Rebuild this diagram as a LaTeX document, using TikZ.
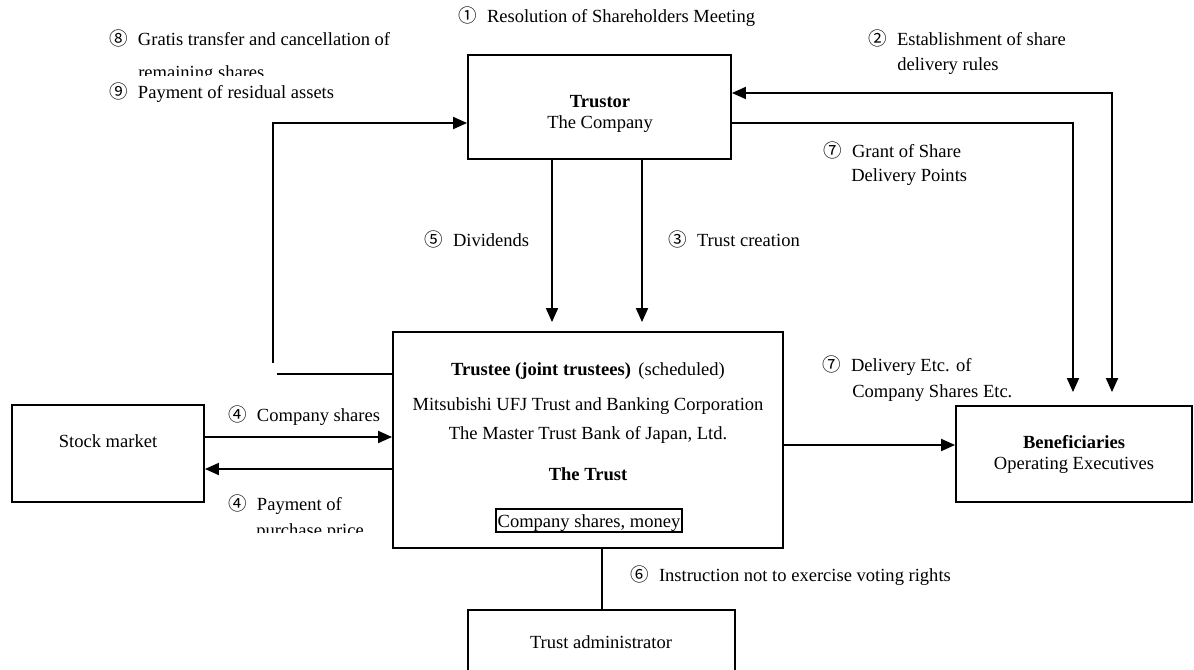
\documentclass[tikz,border=0pt]{standalone}
\usepackage{fontspec}
\setmainfont{Liberation Serif}
\newfontfamily\cjk{Noto Sans CJK JP}
\usetikzlibrary{arrows.meta,fit}
\newcommand{\cnum}[1]{{\cjk #1}\hspace{0.55em}}
\begin{document}
\begin{tikzpicture}[x=0.75pt,y=-0.75pt,
  box/.style={draw, line width=1.4pt, inner sep=0pt},
  tx/.style={anchor=base, inner sep=0pt, font=\fontsize{13.9}{16}\selectfont},
  txw/.style={tx, anchor=base west},
  conn/.style={line width=1.4pt},
  arr/.style={conn, -{Triangle[length=10.5pt,width=9pt]}},
  darr/.style={conn, {Triangle[length=10.5pt,width=9pt]}-{Triangle[length=10.5pt,width=9pt]}}]
\useasboundingbox (0,0) rectangle (1194,670);
\clip (0,0) rectangle (1194,670);

% boxes
\node[box, fit={(468,55) (731,159)}] (trustor) {};
\node[box, fit={(393,332) (783,548)}] (trustee) {};
\node[box, fit={(12,405) (204,502)}] (stock) {};
\node[box, fit={(956,406) (1192,502)}] (benef) {};
\node[box, fit={(468,610) (735,700)}] (admin) {};
\node[box, line width=1.1pt, fit={(496,509) (682,532)}] (cs) {};

% box texts
\node[tx, font=\fontsize{13.9}{16}\selectfont\bfseries] (trustorA) at (600,108) {Trustor};
\node[tx] (trustorB) at (600,129) {The Company};
\node[tx] (trA) at (588,375) {\textbf{Trustee (joint trustees)}\hspace{0.4em}(scheduled)};
\node[tx] (trB) at (588,410) {Mitsubishi UFJ Trust and Banking Corporation};
\node[tx] (trC) at (588,439) {The Master Trust Bank of Japan, Ltd.};
\node[tx, font=\fontsize{13.9}{16}\selectfont\bfseries] (trD) at (588,480) {The Trust};
\node[tx] (csT) at (589,527) {Company shares, money};
\node[tx] (stockT) at (108,447) {Stock market};
\node[tx, font=\fontsize{13.9}{16}\selectfont\bfseries] (benA) at (1074,448) {Beneficiaries};
\node[tx] (benB) at (1074,469) {Operating Executives};
\node[tx] (adminT) at (601,648) {Trust administrator};

% labels
\node[txw] (l1) at (458,23) {\cnum{①}Resolution of Shareholders Meeting};
\node[txw] (l8) at (109,46) {\cnum{⑧}Gratis transfer and cancellation of};
\begin{scope}
\clip (100,0) rectangle (420,76);
\node[txw] (l8b) at (138,79) {remaining shares};
\end{scope}
\node[txw] (l9) at (109,99) {\cnum{⑨}Payment of residual assets};
\node[txw] (l2) at (868,46) {\cnum{②}Establishment of share};
\node[txw] (l2b) at (897,71) {delivery rules};
\node[txw] (l7) at (823,158) {\cnum{⑦}Grant of Share};
\node[txw] (l7b) at (851,182) {Delivery Points};
\node[txw] (l5) at (424,246) {\cnum{⑤}Dividends};
\node[txw] (l3) at (668,246) {\cnum{③}Trust creation};
\node[txw] (l7c) at (822,371) {\cnum{⑦}Delivery Etc. of};
\node[txw] (l7d) at (852,397) {Company Shares Etc.};
\node[txw] (l4) at (228,421) {\cnum{④}Company shares};
\node[txw] (l4b) at (228,510) {\cnum{④}Payment of};
\begin{scope}
\clip (220,480) rectangle (390,532);
\node[txw] (l4c) at (256,536) {purchase price};
\end{scope}
\node[txw] (l6) at (630,581) {\cnum{⑥}Instruction not to exercise voting rights};

% connectors
\coordinate (c9) at (273,363);
\coordinate (c9b) at (277,374);
\draw[arr] (c9) |- (trustor.west |- 0,123);
\draw[conn] (c9b) -- (trustee.west |- 0,374);
\draw[darr, shorten <=9.75pt] (benef.north -| 1112,0) |- (trustor.east |- 0,93);
\draw[arr, shorten >=9.75pt] (trustor.east |- 0,123) -| (benef.north -| 1073,0);
\draw[arr, shorten >=6.75pt] (trustor.south -| 552,0) -- (trustee.north -| 552,0);
\draw[arr, shorten >=6.75pt] (trustor.south -| 642,0) -- (trustee.north -| 642,0);
\draw[arr] (stock.east |- 0,437) -- (trustee.west |- 0,437);
\draw[arr] (trustee.west |- 0,469) -- (stock.east |- 0,469);
\draw[arr] (trustee.east |- 0,445) -- (benef.west |- 0,445);
\draw[conn] (trustee.south -| 602,0) -- (admin.north -| 602,0);
\end{tikzpicture}
\end{document}
